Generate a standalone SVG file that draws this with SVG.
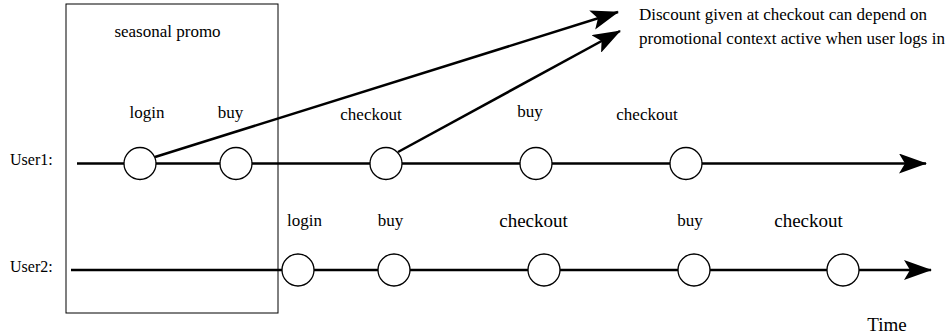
<svg xmlns="http://www.w3.org/2000/svg" width="952" height="336" viewBox="0 0 952 336">
<style>
text{font-family:"Liberation Serif","Times New Roman",serif;font-size:17px;fill:#000}
.t{text-anchor:middle}
.big{font-size:19px}
.ev{fill:#fff;stroke:#000;stroke-width:1.3}
.ln{stroke:#000;stroke-width:2.5;fill:none}
</style>
<defs>
<marker id="ah2" viewBox="0 0 28 20" refX="27" refY="10" markerWidth="28" markerHeight="20" markerUnits="userSpaceOnUse" orient="auto">
<path d="M0,0 L28,10 L0,20 L6,10 Z" fill="#000"/>
</marker>
</defs>
<g id="promo-box">
<rect x="66" y="4" width="212" height="309" fill="none" stroke="#000" stroke-width="1"/>
<text class="t" x="167.5" y="37">seasonal promo</text>
</g>
<g id="connectors">
<line class="ln" x1="77" y1="163.5" x2="926" y2="163.5" marker-end="url(#ah2)"/>
<line class="ln" x1="71" y1="270" x2="931" y2="270" marker-end="url(#ah2)"/>
<line class="ln" x1="155" y1="157" x2="618" y2="12" marker-end="url(#ah2)"/>
<line class="ln" x1="398" y1="152" x2="620" y2="31" marker-end="url(#ah2)"/>
</g>
<g id="user1-label"><text x="10" y="165" style="font-size:16px">User1:</text></g>
<g id="user2-label"><text x="10" y="272" style="font-size:16px">User2:</text></g>
<g id="u1-login"><circle class="ev" cx="140" cy="163.5" r="16"/><text class="t" x="147" y="118">login</text></g>
<g id="u1-buy1"><circle class="ev" cx="236" cy="163.5" r="16"/><text class="t" x="230.5" y="118">buy</text></g>
<g id="u1-checkout1"><circle class="ev" cx="386" cy="163.5" r="16"/><text class="t" x="371" y="120">checkout</text></g>
<g id="u1-buy2"><circle class="ev" cx="536" cy="163.5" r="16"/><text class="t" x="530" y="117">buy</text></g>
<g id="u1-checkout2"><circle class="ev" cx="686" cy="163.5" r="16"/><text class="t" x="647" y="120">checkout</text></g>
<g id="u2-login"><circle class="ev" cx="298" cy="270" r="16"/><text class="t" x="304.5" y="226">login</text></g>
<g id="u2-buy1"><circle class="ev" cx="394" cy="270" r="16"/><text class="t" x="390.5" y="226">buy</text></g>
<g id="u2-checkout1"><circle class="ev" cx="544" cy="270" r="16"/><text class="t big" x="533.5" y="227">checkout</text></g>
<g id="u2-buy2"><circle class="ev" cx="694" cy="270" r="16"/><text class="t" x="690" y="226">buy</text></g>
<g id="u2-checkout2"><circle class="ev" cx="843" cy="270" r="16"/><text class="t big" x="808.5" y="227">checkout</text></g>
<g id="note">
<text x="639" y="20">Discount given at checkout can depend on</text>
<text x="639" y="44">promotional context active when user logs in</text>
</g>
<g id="time-label"><text class="t big" x="887" y="331">Time</text></g>
</svg>
